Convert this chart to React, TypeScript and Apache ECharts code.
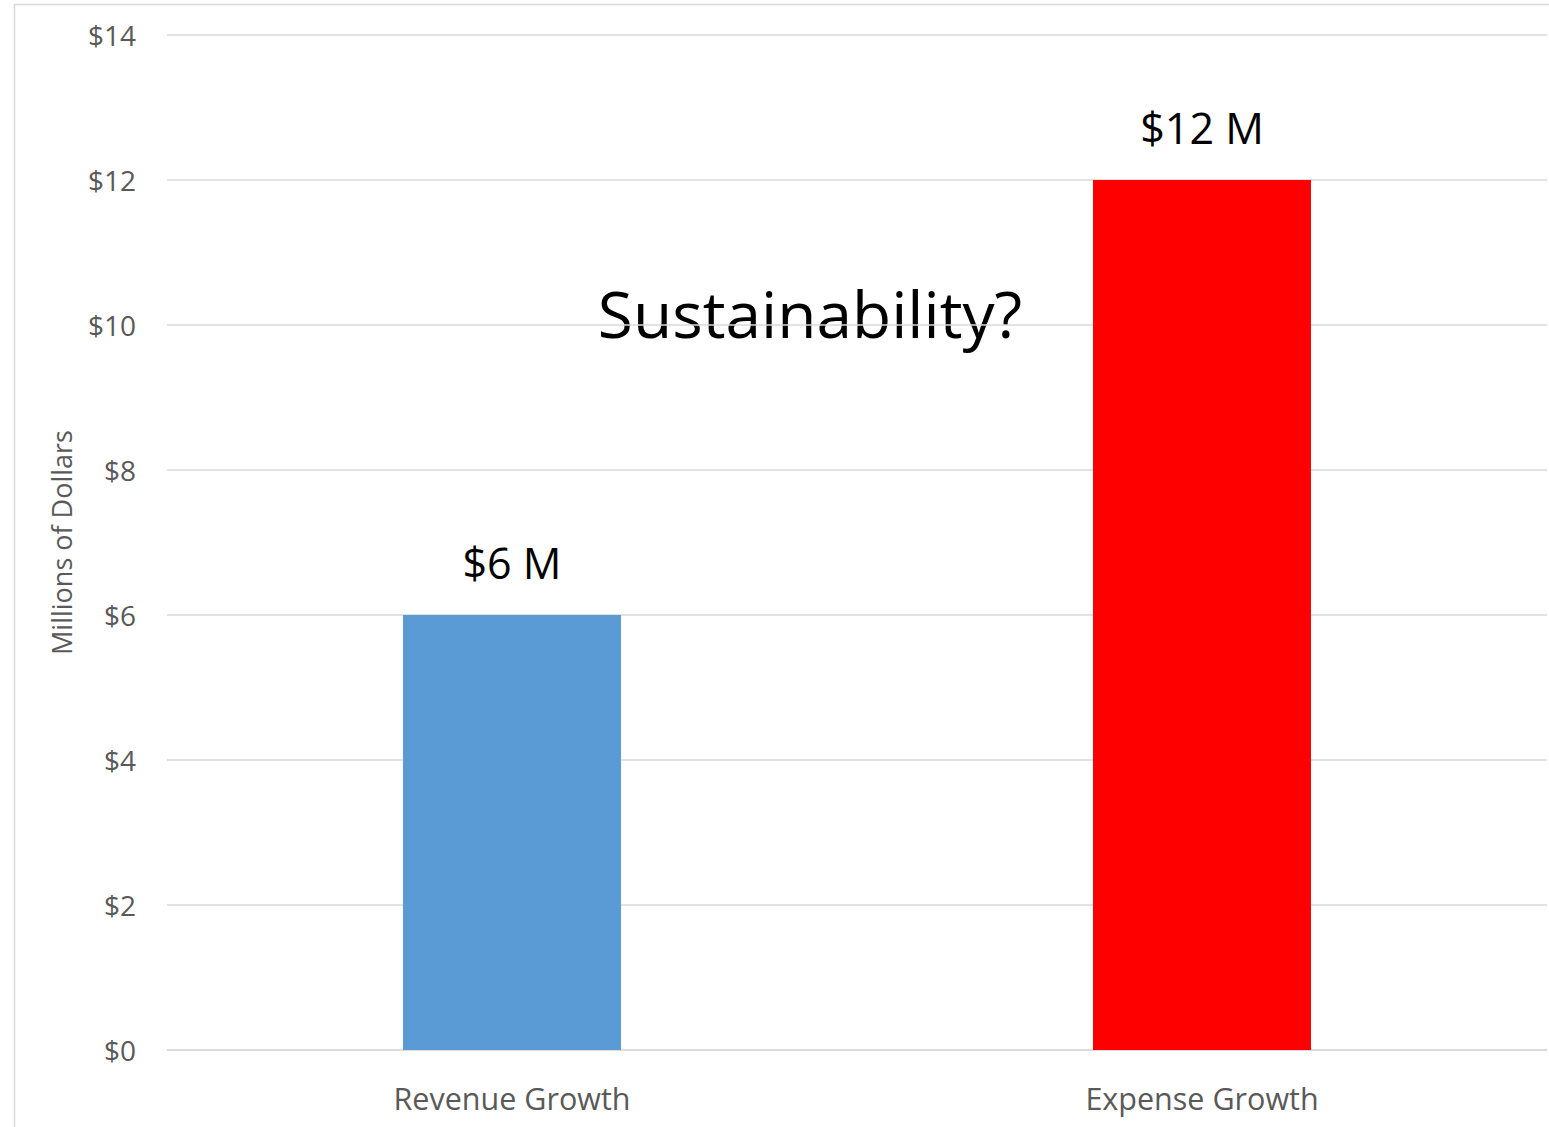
import React, { useEffect, useRef } from "react";
import * as echarts from "echarts";

const categories = ["Revenue Growth", "Expense Growth"];
const values = [6, 12];
const barColors = ["#5B9BD5", "#FF0000"];
const barLabels = ["$6 M", "$12 M"];
const yTicks = { min: 0, max: 14, interval: 2 };
const yAxisTitle = "Millions of Dollars";
const annotation = "Sustainability?";

const FONT = "'Open Sans', Lato, 'Noto Sans', sans-serif";

export default function App() {
  const ref = useRef<HTMLDivElement>(null);
  useEffect(() => {
    if (!ref.current) return;
    const chart = echarts.init(ref.current, null, { renderer: "svg" });
    chart.setOption({
      animation: false,
      backgroundColor: "#ffffff",
      textStyle: { fontFamily: FONT },
      grid: { left: 167, right: 2, top: 35, bottom: 77, containLabel: false },
      xAxis: {
        type: "category",
        data: categories,
        axisLine: { show: true, lineStyle: { color: "#D9D9D9", width: 1.5 } },
        axisTick: { show: false },
        axisLabel: { color: "#595959", fontSize: 30.5, margin: 32, fontFamily: FONT },
      },
      yAxis: {
        type: "value",
        min: yTicks.min,
        max: yTicks.max,
        interval: yTicks.interval,
        name: yAxisTitle,
        nameLocation: "middle",
        nameGap: 92,
        nameTextStyle: { color: "#595959", fontSize: 27, fontFamily: FONT },
        axisLine: { show: false },
        axisTick: { show: false },
        splitLine: { lineStyle: { color: "#D9D9D9", width: 1.5 } },
        axisLabel: {
          color: "#595959",
          fontSize: 28,
          margin: 31,
          fontFamily: FONT,
          formatter: (v: number) => "$" + v,
        },
      },
      series: [
        {
          type: "bar",
          barWidth: 218,
          data: values.map((v, i) => ({
            value: v,
            itemStyle: { color: barColors[i] },
            label: {
              show: true,
              position: "top",
              distance: 31,
              formatter: barLabels[i],
              color: "#000000",
              fontSize: 43,
              fontFamily: FONT,
            },
          })),
        },
      ],
      graphic: [
        {
          type: "rect",
          shape: { x: 14.5, y: 4.5, width: 1700, height: 1300 },
          style: { fill: "none", stroke: "#D9D9D9", lineWidth: 1.5 },
          silent: true,
        },
        {
          type: "text",
          x: 810,
          y: 313,
          style: {
            text: annotation,
            fill: "#000000",
            fontSize: 64,
            fontFamily: FONT,
            align: "center",
            verticalAlign: "middle",
          },
        },
      ],
    });
    return () => chart.dispose();
  }, []);
  return (
    <div
      ref={ref}
      style={{ position: "absolute", left: 0, top: 0, width: 1549, height: 1127 }}
    />
  );
}
